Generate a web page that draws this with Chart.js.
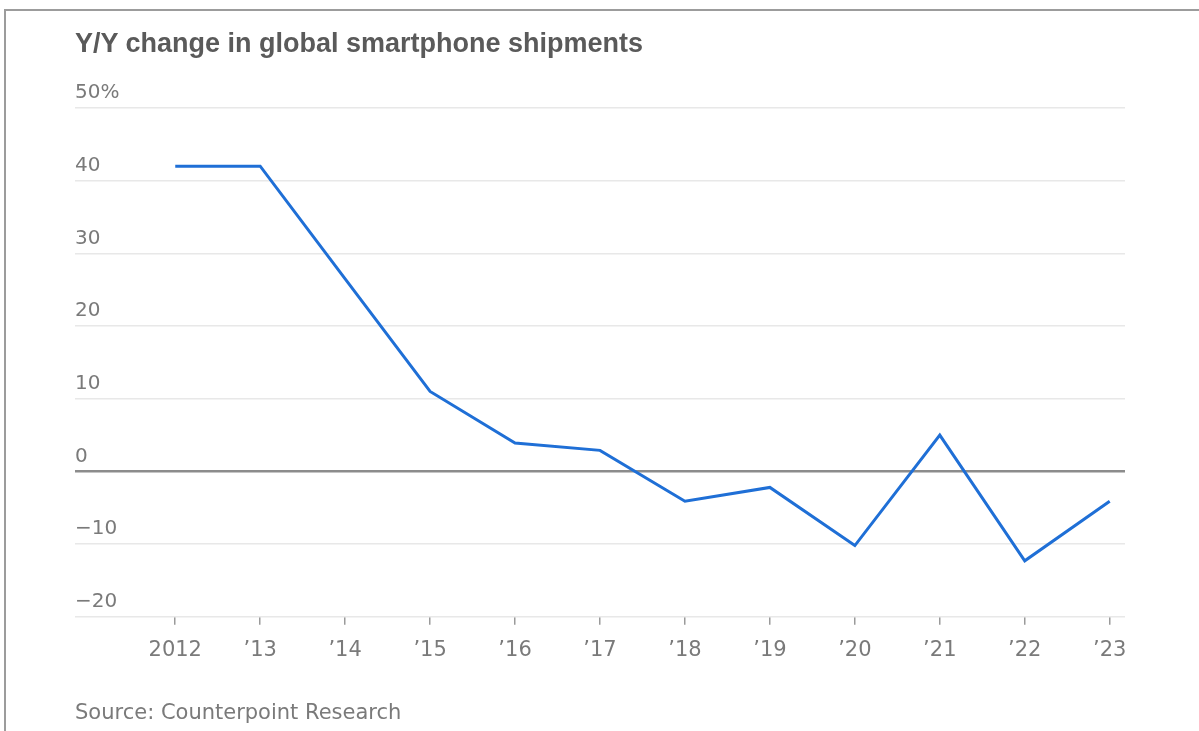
<!DOCTYPE html>
<html>
<head>
<meta charset="utf-8">
<script src="https://cdn.jsdelivr.net/npm/chart.js@4"></script>
<style>
    html, body { margin: 0; padding: 0; background: #fff; overflow: hidden; }
    body { width: 1199px; height: 731px; position: relative; }
    #frame { position: absolute; left: 4px; top: 9px; width: 1300px; height: 800px; border-top: 2px solid #9c9c9c; border-left: 2px solid #9c9c9c; }
    #chart { position: absolute; left: 0; top: 0; }
    #title { position: absolute; left: 75px; top: 28px; font-family: "Liberation Sans", Arial, sans-serif; font-size: 27px; font-weight: bold; color: #5a5a5a; }
    #source { position: absolute; left: 75px; top: 700px; font-family: "DejaVu Sans", sans-serif; font-size: 21px; color: #7a7a7a; }
</style>
</head>
<body>
<div id="frame"></div>
<canvas id="chart" width="1199" height="731"></canvas>
<div id="title">Y/Y change in global smartphone shipments</div>
<div id="source">Source: Counterpoint Research</div>
<script>
// data
const years = [2012, 2013, 2014, 2015, 2016, 2017, 2018, 2019, 2020, 2021, 2022, 2023];
const yoyChange = [42, 42, 26.5, 11, 3.9, 2.9, -4.1, -2.2, -10.2, 5, -12.3, -4.1];
const yTicks = [-20, -10, 0, 10, 20, 30, 40, 50];

const points = years.map((y, i) => ({ x: y, y: yoyChange[i] }));

const ctx = document.getElementById('chart').getContext('2d');
const chart = new Chart(ctx, {
    type: 'line',
    data: {
        datasets: [{
            data: points,
            borderColor: '#1f6fd6',
            borderWidth: 3,
            pointRadius: 0,
            tension: 0,
            fill: false
        }]
    },
    options: {
        responsive: false,
        animation: false,
        layout: { padding: { left: 75, right: 74, top: 108, bottom: 55 } },
        plugins: { legend: { display: false }, tooltip: { enabled: false } },
        scales: {
            x: {
                type: 'linear',
                min: 2010.82,
                max: 2023.18,
                afterBuildTicks: function (scale) {
                    scale.ticks = years.map(v => ({ value: v }));
                },
                grid: { drawOnChartArea: false, drawTicks: true, tickLength: 8, color: '#9a9a9a', lineWidth: 1.5 },
                border: { display: false },
                ticks: {
                    padding: 13,
                    color: '#7a7a7a',
                    font: { family: 'DejaVu Sans', size: 21 },
                    maxRotation: 0,
                    autoSkip: false,
                    callback: function (v) {
                        return v === 2012 ? '2012' : '\u2019' + String(v).slice(2);
                    }
                }
            },
            y: {
                min: -20,
                max: 50,
                afterBuildTicks: function (scale) {
                    scale.ticks = yTicks.map(v => ({ value: v }));
                },
                grid: {
                    drawTicks: false,
                    color: c => c.tick && c.tick.value === 0 ? '#8c8c8c' : '#e8e8e8',
                    lineWidth: c => c.tick && c.tick.value === 0 ? 2.5 : 1.5
                },
                border: { display: false },
                ticks: {
                    mirror: true,
                    padding: 0,
                    labelOffset: -15,
                    color: '#7a7a7a',
                    font: { family: 'DejaVu Sans', size: 20 },
                    callback: function (v) {
                        if (v === 50) return '50%';
                        return v < 0 ? '\u2212' + Math.abs(v) : String(v);
                    }
                }
            }
        }
    }
});
</script>
</body>
</html>
